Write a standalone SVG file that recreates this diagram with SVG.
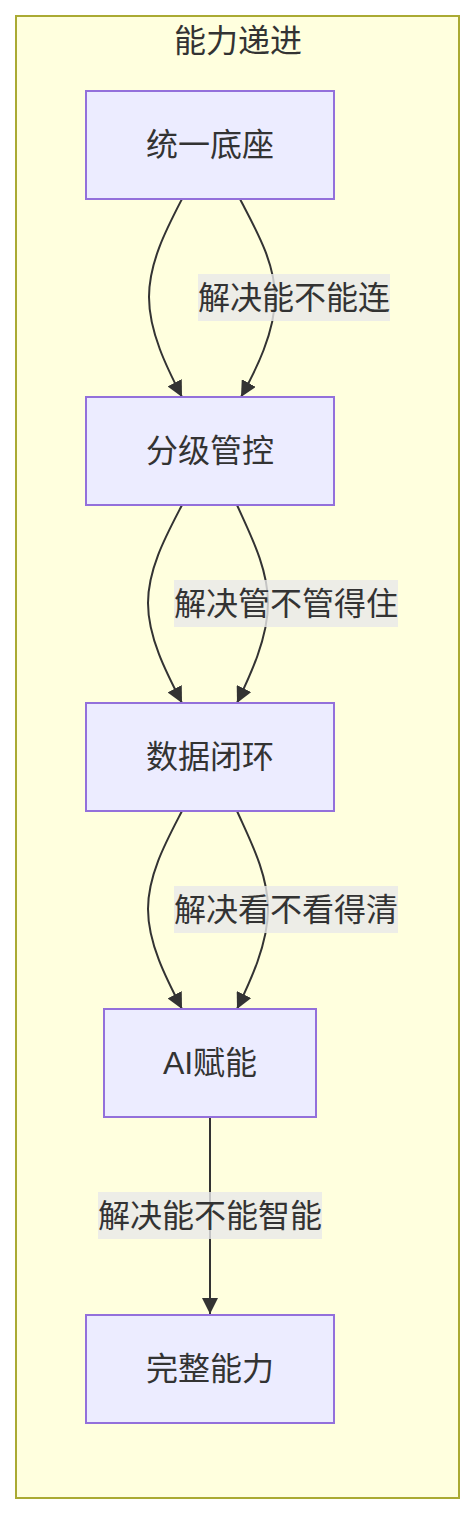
<svg xmlns="http://www.w3.org/2000/svg" width="475" height="1514" viewBox="0 0 475 1514">
<style>
text{font-family:"Liberation Sans","Noto Sans CJK SC",sans-serif;font-size:32px;fill:#333333;text-anchor:middle;dominant-baseline:central}
.node rect{fill:#ECECFF;stroke:#9370DB;stroke-width:2}
.edge{fill:none;stroke:#333333;stroke-width:2}
.lblbg{fill:rgba(232,232,232,0.8)}
</style>
<defs>
<marker id="arrow" markerUnits="userSpaceOnUse" markerWidth="16" markerHeight="16" viewBox="0 0 12 12" refX="12" refY="6" orient="auto">
<path d="M0,0 L12,6 L0,12 z" fill="#333333"/>
</marker>
</defs>
<g id="cluster">
<rect x="16" y="16" width="443" height="1482" fill="#ffffde" stroke="#aaaa33" stroke-width="2"/>
<text x="238" y="41">能力递进</text>
</g>
<g id="connectors">
<path class="edge" d="M182,199 C167,228 149,262 149,297 C149,332 167,368 182,397" marker-end="url(#arrow)"/>
<path class="edge" d="M240,199 C255,228 275,262 275,297 C275,332 256,370 241,397" marker-end="url(#arrow)"/>
<path class="edge" d="M182,505 C167,534 148,568 148,603 C148,638 167,674 182,703" marker-end="url(#arrow)"/>
<path class="edge" d="M237,505 C250,534 268,568 268,603 C268,638 250,676 237,703" marker-end="url(#arrow)"/>
<path class="edge" d="M182,811 C167,840 148,874 148,909 C148,944 167,980 182,1009" marker-end="url(#arrow)"/>
<path class="edge" d="M237,811 C250,840 268,874 268,909 C268,944 250,982 237,1009" marker-end="url(#arrow)"/>
<path class="edge" d="M210,1117 L210,1314" marker-end="url(#arrow)"/>
<g id="label1"><rect class="lblbg" x="198" y="274" width="192" height="47"/><text x="294" y="297.5">解决能不能连</text></g>
<g id="label2"><rect class="lblbg" x="174" y="580" width="224" height="47"/><text x="286" y="603.5">解决管不管得住</text></g>
<g id="label3"><rect class="lblbg" x="174" y="886" width="224" height="47"/><text x="286" y="909.5">解决看不看得清</text></g>
<g id="label4"><rect class="lblbg" x="98" y="1192" width="224" height="47"/><text x="210" y="1215.5">解决能不能智能</text></g>
</g>
<g id="n1" class="node"><rect x="86" y="91" width="248" height="108"/><text x="210" y="145">统一底座</text></g>
<g id="n2" class="node"><rect x="86" y="397" width="248" height="108"/><text x="210" y="451">分级管控</text></g>
<g id="n3" class="node"><rect x="86" y="703" width="248" height="108"/><text x="210" y="757">数据闭环</text></g>
<g id="n4" class="node"><rect x="104" y="1009" width="212" height="108"/><text x="210" y="1063">AI赋能</text></g>
<g id="n5" class="node"><rect x="86" y="1315" width="248" height="108"/><text x="210" y="1369">完整能力</text></g>
</svg>
